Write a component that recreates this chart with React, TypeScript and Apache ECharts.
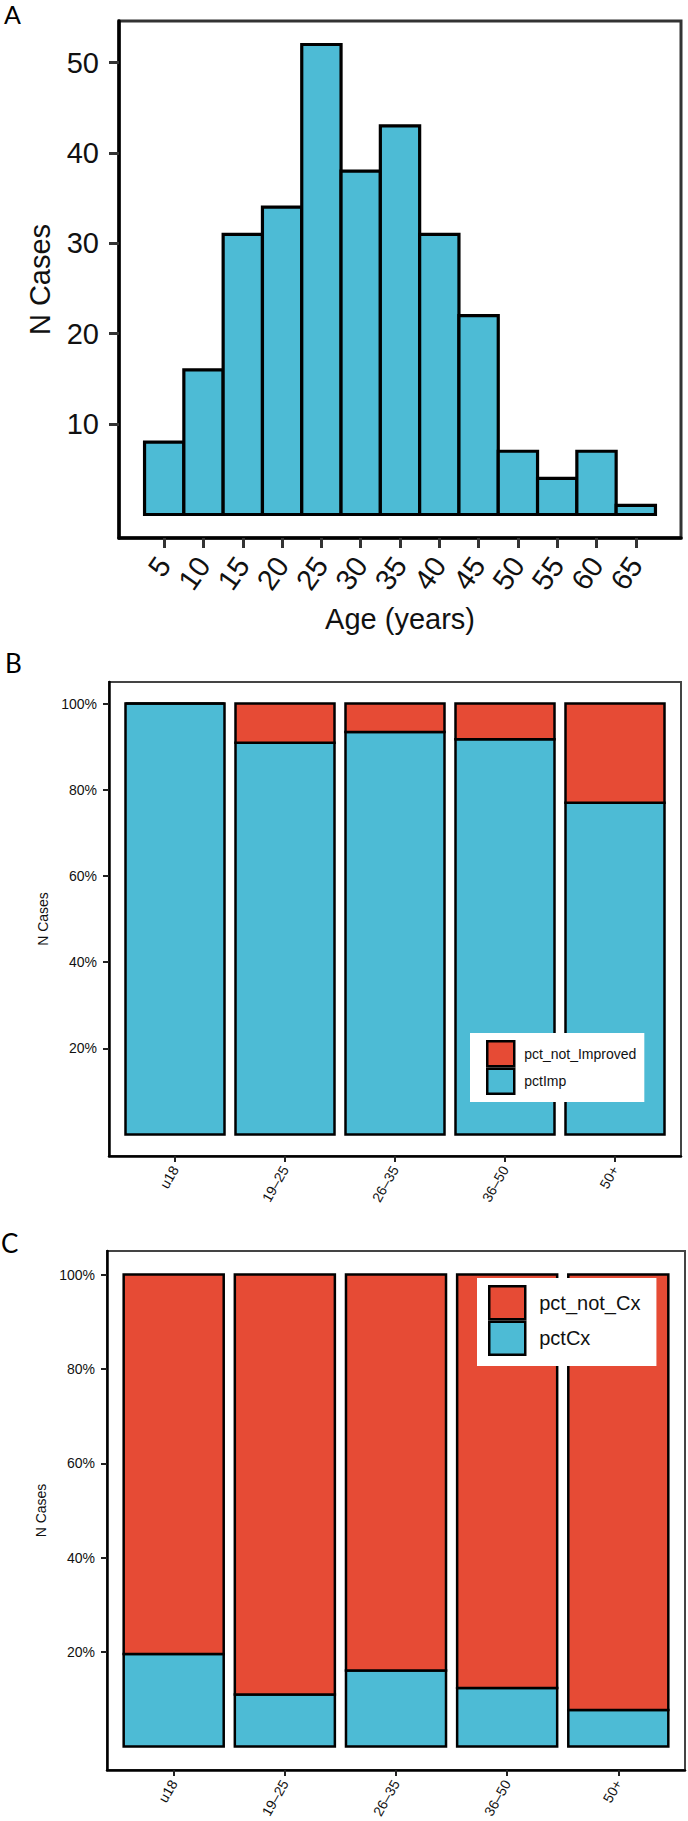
import React, { useEffect, useRef } from 'react';
import * as echarts from 'echarts';

// ---- Panel A: age histogram ----
const ageBins = [5, 10, 15, 20, 25, 30, 35, 40, 45, 50, 55, 60, 65];
const ageCounts = [8, 16, 31, 34, 52, 38, 43, 31, 22, 7, 4, 7, 1];
const ageTicks = [5, 10, 15, 20, 25, 30, 35, 40, 45, 50, 55, 60, 65];
const countTicks = [10, 20, 30, 40, 50];
const binWidth = 5;

// ---- Panels B & C: age groups ----
const ageGroups = ['u18', '19–25', '26–35', '36–50', '50+'];
const pctImp = [100, 90.9, 93.4, 91.7, 77.0];
const pctNotImproved = [0, 9.1, 6.6, 8.3, 23.0];
const pctCx = [19.6, 11.0, 16.1, 12.4, 7.7];
const pctNotCx = [80.4, 89.0, 83.9, 87.6, 92.3];
const pctTicks = [20, 40, 60, 80, 100];
const groupPositions = [1, 2, 3, 4, 5];

const BLUE = '#4DBBD5';
const RED = '#E64B35';
const FONT = 'Liberation Sans';

export default function App() {
  const ref = useRef<HTMLDivElement>(null);

  useEffect(() => {
    if (!ref.current) return;
    const chart = echarts.init(ref.current, null, { renderer: 'svg' });

    const histData = ageBins.map((b, i) => [b, ageCounts[i]]);
    const stackData = (lower: number[], upper: number[]) => ({
      low: groupPositions.map((p, i) => [p, 0, lower[i]]),
      high: groupPositions.map((p, i) => [p, lower[i], lower[i] + upper[i]]),
    });
    const bData = stackData(pctImp, pctNotImproved);
    const cData = stackData(pctCx, pctNotCx);

    const histRender = (_p: any, api: any) => {
      const x = api.value(0);
      const y = api.value(1);
      const a = api.coord([x - binWidth / 2, y]);
      const b = api.coord([x + binWidth / 2, 0]);
      return {
        type: 'rect',
        shape: { x: a[0], y: a[1], width: b[0] - a[0], height: b[1] - a[1] },
        style: { fill: BLUE, stroke: '#000', lineWidth: 3.2 },
      };
    };
    const stackRender = (_p: any, api: any) => {
      const x = api.value(0);
      const y0 = api.value(1);
      const y1 = api.value(2);
      const a = api.coord([x - 0.45, y1]);
      const b = api.coord([x + 0.45, y0]);
      return {
        type: 'rect',
        shape: { x: a[0], y: a[1], width: b[0] - a[0], height: b[1] - a[1] },
        style: { fill: api.visual('color'), stroke: '#000', lineWidth: 2.5 },
      };
    };

    const smallAxisX = (gridIndex: number) => ({
      gridIndex,
      type: 'value',
      min: 0.4,
      max: 5.6,
      axisLine: { show: true, onZero: false, lineStyle: { color: '#000', width: 2.5 } },
      axisTick: { show: true, customValues: groupPositions, length: 6, lineStyle: { color: '#222', width: 2 } },
      axisLabel: {
        customValues: groupPositions,
        formatter: (v: number) => ageGroups[Math.round(v) - 1],
        rotate: 60,
        margin: 11,
        fontSize: 14,
        fontFamily: FONT,
        color: '#111',
      },
      splitLine: { show: false },
    });
    const smallAxisY = (gridIndex: number) => ({
      gridIndex,
      type: 'value',
      min: -5,
      max: 105,
      axisLine: { show: true, onZero: false, lineStyle: { color: '#000', width: 2.5 } },
      axisTick: { show: true, customValues: pctTicks, length: 6, lineStyle: { color: '#222', width: 2 } },
      axisLabel: {
        customValues: pctTicks,
        formatter: '{value}%',
        margin: 12,
        fontSize: 14,
        fontFamily: FONT,
        color: '#111',
      },
      splitLine: { show: false },
      name: 'N Cases',
      nameLocation: 'middle',
      nameRotate: 90,
      nameGap: 56,
      nameTextStyle: { fontSize: 14, fontFamily: FONT, color: '#111' },
    });

    const legendBase = {
      orient: 'vertical',
      itemGap: 0,
      icon: 'rect',
      backgroundColor: '#fff',
      selectedMode: false,
      itemStyle: { borderColor: '#000', borderWidth: 2.5 },
    };

    chart.setOption({
      animation: false,
      backgroundColor: '#fff',
      grid: [
        { left: 119, top: 21, width: 562, height: 517, show: true, borderColor: '#333', borderWidth: 3 },
        { left: 109, top: 682, width: 572, height: 474, show: true, borderColor: '#444', borderWidth: 2 },
        { left: 107, top: 1251, width: 578, height: 519, show: true, borderColor: '#444', borderWidth: 2 },
      ],
      xAxis: [
        {
          gridIndex: 0,
          type: 'value',
          min: -0.75,
          max: 70.75,
          axisLine: { show: true, onZero: false, lineStyle: { color: '#000', width: 3.5 } },
          axisTick: { show: true, customValues: ageTicks, length: 10, lineStyle: { color: '#333', width: 3 } },
          axisLabel: {
            customValues: ageTicks,
            rotate: 55,
            margin: 22,
            fontSize: 29,
            fontFamily: FONT,
            color: '#111',
          },
          splitLine: { show: false },
          name: 'Age (years)',
          nameLocation: 'middle',
          nameGap: 66,
          nameTextStyle: { fontSize: 29, fontFamily: FONT, color: '#111' },
        },
        smallAxisX(1),
        smallAxisX(2),
      ],
      yAxis: [
        {
          gridIndex: 0,
          type: 'value',
          min: -2.6,
          max: 54.6,
          axisLine: { show: true, onZero: false, lineStyle: { color: '#000', width: 3.5 } },
          axisTick: { show: true, customValues: countTicks, length: 10, lineStyle: { color: '#333', width: 3 } },
          axisLabel: {
            customValues: countTicks,
            margin: 20,
            fontSize: 29,
            fontFamily: FONT,
            color: '#111',
          },
          splitLine: { show: false },
          name: 'N Cases',
          nameLocation: 'middle',
          nameRotate: 90,
          nameGap: 65,
          nameTextStyle: { fontSize: 29, fontFamily: FONT, color: '#111' },
        },
        smallAxisY(1),
        smallAxisY(2),
      ],
      legend: [
        {
          ...legendBase,
          data: ['pct_not_Improved', 'pctImp'],
          left: 470,
          top: 1033,
          itemWidth: 27,
          itemHeight: 25,
          padding: [7, 8, 7, 16],
          textStyle: { fontSize: 14, fontFamily: FONT, color: '#111', padding: [0, 0, 0, 5] },
        },
        {
          ...legendBase,
          data: ['pct_not_Cx', 'pctCx'],
          left: 477,
          top: 1278,
          itemWidth: 36,
          itemHeight: 33,
          padding: [7, 16, 10, 11],
          textStyle: { fontSize: 20, fontFamily: FONT, color: '#111', padding: [0, 0, 0, 9] },
        },
      ],
      graphic: [
        { type: 'text', x: 4, y: 1, style: { text: 'A', font: '25px Lato', fill: '#000', verticalAlign: 'top' } },
        { type: 'text', x: 5, y: 663, style: { text: 'B', font: '26px Lato', fill: '#000', verticalAlign: 'middle' } },
        { type: 'text', x: 1, y: 1243, style: { text: 'C', font: '26px Lato', fill: '#000', verticalAlign: 'middle' } },
      ],
      series: [
        {
          type: 'custom',
          name: 'Age',
          xAxisIndex: 0,
          yAxisIndex: 0,
          data: histData,
          renderItem: histRender,
          itemStyle: { color: BLUE },
        },
        {
          type: 'custom',
          name: 'pctImp',
          xAxisIndex: 1,
          yAxisIndex: 1,
          data: bData.low,
          renderItem: stackRender,
          itemStyle: { color: BLUE },
        },
        {
          type: 'custom',
          name: 'pct_not_Improved',
          xAxisIndex: 1,
          yAxisIndex: 1,
          data: bData.high,
          renderItem: stackRender,
          itemStyle: { color: RED },
        },
        {
          type: 'custom',
          name: 'pctCx',
          xAxisIndex: 2,
          yAxisIndex: 2,
          data: cData.low,
          renderItem: stackRender,
          itemStyle: { color: BLUE },
        },
        {
          type: 'custom',
          name: 'pct_not_Cx',
          xAxisIndex: 2,
          yAxisIndex: 2,
          data: cData.high,
          renderItem: stackRender,
          itemStyle: { color: RED },
        },
      ],
    });

    return () => chart.dispose();
  }, []);

  return (
    <div
      ref={ref}
      style={{ position: 'absolute', left: 0, top: 0, width: 688, height: 1821, background: '#fff' }}
    />
  );
}
